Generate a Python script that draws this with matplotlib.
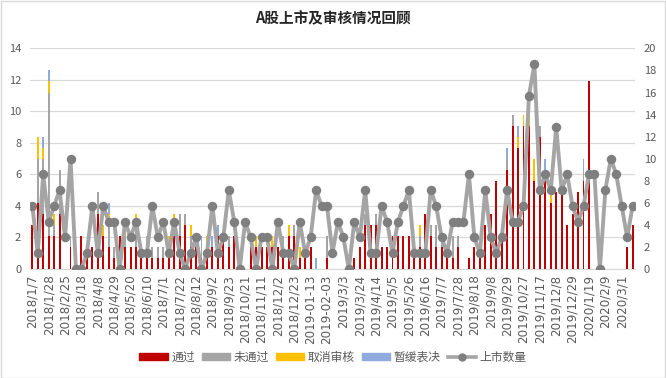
import matplotlib
matplotlib.use("Agg")
import matplotlib.pyplot as plt
from matplotlib.patches import Patch, Rectangle
from matplotlib.lines import Line2D
import numpy as np
import pandas as pd

plt.rcParams['font.family'] = ['Noto Sans CJK SC', 'DejaVu Sans']

# weekly categories, holiday weeks are missing from the source table
skipped_weeks = ['2018-02-18', '2018-10-07', '2019-02-10', '2019-10-06']
weeks = pd.date_range('2018-01-07', '2020-03-15', freq='7D')
weeks = weeks[~weeks.isin(pd.to_datetime(skipped_weeks))]

# 审核结果 (right axis)
passed = [4, 6, 5, 3, 3, 5, 0, 2, 1, 3,
          1, 2, 5, 3, 2, 1, 3, 2, 2, 2,
          1, 1, 1, 1, 1, 1, 3, 3, 4, 2,
          2, 1, 1, 2, 3, 3, 2, 3, 0, 0,
          2, 2, 2, 2, 2, 2, 1, 3, 3, 1,
          1, 2, 0, 0, 1, 0, 0, 0, 0, 1,
          2, 4, 4, 4, 2, 2, 3, 3, 3, 3,
          2, 2, 5, 3, 2, 2, 1, 1, 2, 0,
          1, 2, 1, 4, 5, 8, 3, 9, 13, 11,
          13, 13, 8, 12, 9, 6, 7, 7, 4, 5,
          7, 8, 17, 0, 0, 0, 0, 0, 0, 2,
          4]
failed = [0, 4, 5, 13, 1, 4, 0, 1, 0, 0,
          0, 0, 2, 0, 2, 1, 0, 1, 0, 2,
          1, 2, 1, 1, 1, 1, 1, 2, 1, 1,
          1, 1, 1, 0, 0, 0, 1, 0, 0, 0,
          0, 0, 0, 0, 0, 0, 2, 0, 1, 0,
          0, 0, 0, 0, 2, 0, 0, 0, 0, 0,
          0, 1, 0, 1, 0, 0, 0, 0, 0, 0,
          0, 1, 0, 1, 2, 1, 0, 2, 1, 0,
          0, 0, 0, 0, 0, 0, 0, 1, 1, 0,
          0, 0, 0, 1, 0, 0, 0, 0, 0, 0,
          0, 1, 0, 0, 0, 0, 0, 0, 0, 0,
          0]
cancelled = [0, 2, 1, 1, 1, 0, 0, 0, 0, 0,
             0, 0, 0, 1, 1, 0, 0, 1, 0, 1,
             0, 0, 0, 0, 0, 1, 1, 0, 0, 1,
             0, 0, 1, 0, 0, 0, 0, 0, 0, 0,
             0, 1, 0, 0, 1, 0, 0, 1, 0, 1,
             0, 0, 0, 0, 0, 0, 0, 0, 0, 0,
             0, 0, 0, 0, 0, 0, 0, 0, 0, 0,
             0, 1, 0, 0, 0, 0, 0, 0, 0, 0,
             0, 0, 0, 0, 0, 0, 0, 0, 0, 1,
             1, 1, 2, 0, 0, 1, 0, 0, 0, 0,
             0, 0, 0, 0, 0, 0, 0, 0, 0, 0,
             0]
postponed = [0, 0, 1, 1, 0, 0, 0, 0, 0, 0,
             0, 0, 0, 0, 1, 0, 0, 0, 0, 0,
             0, 0, 0, 0, 0, 0, 0, 0, 0, 0,
             0, 1, 0, 1, 1, 0, 0, 0, 0, 0,
             0, 0, 0, 0, 0, 0, 0, 0, 0, 0,
             0, 0, 1, 0, 0, 0, 0, 0, 0, 0,
             0, 0, 0, 0, 0, 0, 0, 0, 0, 0,
             0, 0, 0, 0, 0, 0, 0, 0, 0, 0,
             0, 0, 0, 0, 0, 0, 0, 1, 0, 1,
             0, 0, 0, 0, 1, 0, 0, 0, 0, 0,
             0, 1, 0, 0, 0, 0, 0, 0, 0, 0,
             0]
# 上市数量 (left axis)
listed = [4, 1, 6, 3, 4, 5, 2, 7, 0, 0,
          1, 4, 1, 4, 3, 3, 0, 3, 2, 3,
          1, 1, 4, 2, 3, 1, 3, 1, 0, 1,
          2, 0, 1, 4, 1, 2, 5, 3, 0, 3,
          2, 0, 2, 2, 0, 3, 1, 1, 0, 3,
          1, 2, 5, 4, 4, 1, 3, 2, 0, 3,
          2, 5, 1, 1, 4, 3, 1, 3, 4, 5,
          1, 1, 1, 5, 4, 2, 1, 3, 3, 3,
          6, 2, 1, 5, 2, 1, 2, 5, 3, 3,
          4, 11, 13, 5, 6, 5, 9, 5, 6, 4,
          3, 4, 6, 6, 0, 5, 7, 6, 4, 2,
          4]

c_red, c_gray, c_yellow, c_blue = '#C00000', '#A5A5A5', '#FFC000', '#8FAADC'
txt = '#595959'


def week_label(d):
    if d.year == 2019 and d.month <= 2:
        return d.strftime('%Y-%m-%d')
    return f'{d.year}/{d.month}/{d.day}'


x = np.arange(len(weeks))
passed, failed = np.array(passed), np.array(failed)
cancelled, postponed = np.array(cancelled), np.array(postponed)

fig = plt.figure(figsize=(6.66, 3.78), dpi=100)
ax = fig.add_axes([0.0444, 0.2884, 0.9096, 0.5836])
ax_bar = ax.twinx()
ax_line = ax.twinx()

# grid + left scale
ax.set_ylim(0, 14)
ax.set_yticks(np.arange(0, 15, 2))
ax.grid(axis='y', color='#D9D9D9', linewidth=0.9)
ax.set_axisbelow(True)

w = 0.36
ax_bar.bar(x, passed, w, color=c_red)
ax_bar.bar(x, failed, w, bottom=passed, color=c_gray)
ax_bar.bar(x, cancelled, w, bottom=passed + failed, color=c_yellow)
ax_bar.bar(x, postponed, w, bottom=passed + failed + cancelled, color=c_blue)
ax_bar.set_ylim(0, 20)
ax_bar.set_yticks(np.arange(0, 21, 2))

ax_line.plot(x, listed, color='#A5A5A5', linewidth=2.8, marker='o',
             markersize=5.8, markerfacecolor='#7F7F7F', markeredgecolor='#7F7F7F',
             solid_joinstyle='round')
ax_line.set_ylim(0, 14)
ax_line.yaxis.set_visible(False)

ax.set_xlim(-0.5, len(weeks) - 0.5)
ax.set_xticks(x[::3])
ax.set_xticklabels([week_label(d) for d in weeks[::3]], rotation=90,
                   fontsize=8.6, color=txt, family='DejaVu Sans')

for a in (ax, ax_bar, ax_line):
    for s in a.spines.values():
        s.set_visible(False)
    a.tick_params(length=0)
ax.spines['bottom'].set_visible(True)
ax.spines['bottom'].set_color('#D9D9D9')
ax.tick_params(axis='y', labelsize=8, labelcolor=txt, pad=6)
ax.tick_params(axis='x', pad=4)
ax_bar.tick_params(axis='y', labelsize=8, labelcolor=txt, pad=6)

fig.text(0.5, 0.952, 'A股上市及审核情况回顾', ha='center', va='center',
         fontsize=10.5, fontweight='bold', color='#262626')

handles = [Patch(color=c_red), Patch(color=c_gray), Patch(color=c_yellow),
           Patch(color=c_blue),
           Line2D([], [], color='#A5A5A5', linewidth=2.6, marker='o',
                  markersize=5, markerfacecolor='#7F7F7F', markeredgecolor='#7F7F7F')]
labels = ['通过', '未通过', '取消审核', '暂缓表决', '上市数量']
fig.legend(handles, labels, loc='center', bbox_to_anchor=(0.5, 0.055), ncol=5,
           frameon=False, fontsize=8.5, handlelength=2.4, handleheight=0.6,
           columnspacing=0.6, handletextpad=0.3, labelcolor=txt)

fig.patches.append(Rectangle((0.001, 0.001), 0.997, 0.997, transform=fig.transFigure,
                             fill=False, edgecolor='#D9D9D9', linewidth=1))

fig.savefig('out.png', dpi=100)
